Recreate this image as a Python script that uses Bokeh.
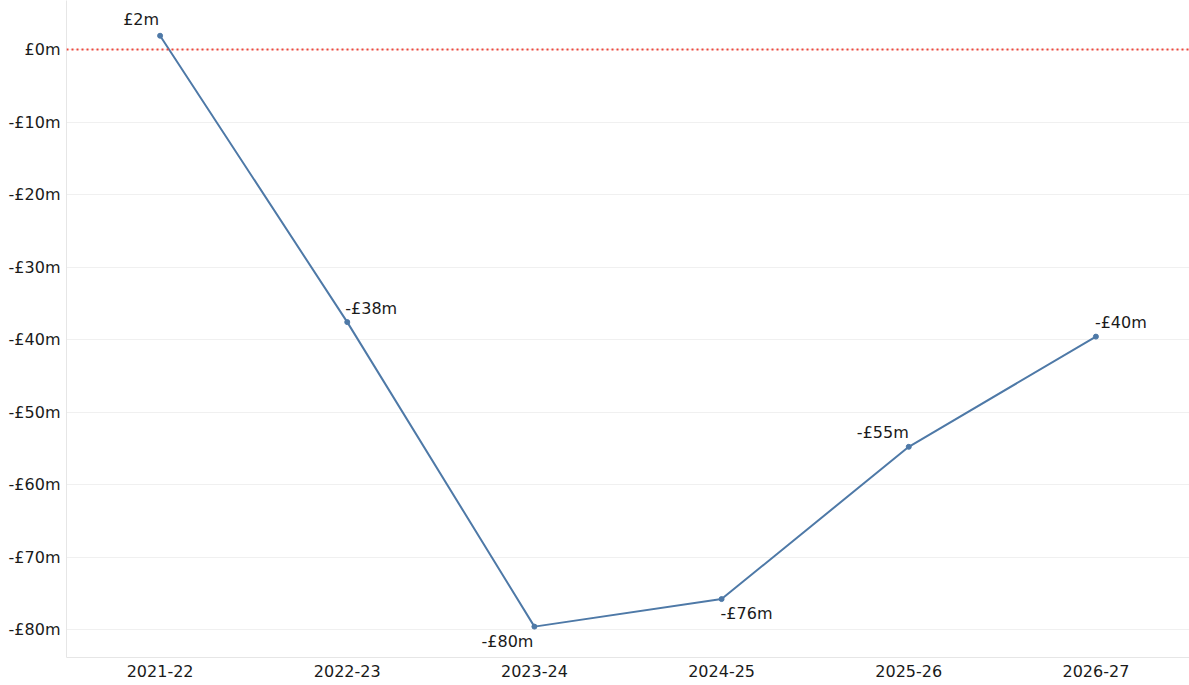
from bokeh.plotting import figure
from bokeh.models import Range1d, ColumnDataSource, Span, FixedTicker, CustomJSTickFormatter
from bokeh.core.properties import value
from bokeh.embed import file_html
from bokeh.resources import INLINE

# ---- data ----
years = ["2021-22", "2022-23", "2023-24", "2024-25", "2025-26", "2026-27"]
values = [1.9, -37.6, -79.6, -75.8, -54.8, -39.6]
labels = ["£2m", "-£38m", "-£80m", "-£76m", "-£55m", "-£40m"]
y_ticks = [0, -10, -20, -30, -40, -50, -60, -70, -80]

# ---- label styling (not data) ----
label_align = ["right", "left", "right", "left", "right", "left"]
label_dx = [-1, -2, -1, -1, 0, -1]
label_dy = [-16, -14, 15, 14, -14, -14]

FONT = "DejaVu Sans"

p = figure(
    x_range=years,
    y_range=Range1d(-83.86, 6.76),
    width=1189,
    height=685,
    output_backend="svg",
    toolbar_location=None,
    min_border_left=66,
    min_border_right=0,
    min_border_top=0,
    min_border_bottom=28,
)
p.outline_line_color = None
p.background_fill_color = "white"
p.border_fill_color = "white"

# axes
p.xaxis.axis_line_color = "#e6e6e6"
p.yaxis.axis_line_color = "#e6e6e6"
p.xaxis.major_tick_line_color = None
p.yaxis.major_tick_line_color = None
p.xaxis.minor_tick_line_color = None
p.yaxis.minor_tick_line_color = None
p.xaxis.major_tick_out = 0
p.yaxis.major_tick_out = 0
p.xaxis.major_label_standoff = 7
p.yaxis.major_label_standoff = 6
p.xaxis.major_label_text_font = FONT
p.yaxis.major_label_text_font = FONT
p.xaxis.major_label_text_font_size = "16px"
p.yaxis.major_label_text_font_size = "16px"
p.xaxis.major_label_text_color = "#1a1a1a"
p.yaxis.major_label_text_color = "#1a1a1a"
p.yaxis.ticker = FixedTicker(ticks=y_ticks)
p.yaxis.formatter = CustomJSTickFormatter(
    code="return (tick < 0 ? '-' : '') + '£' + Math.abs(tick).toFixed(0) + 'm';"
)

p.xgrid.grid_line_color = None
p.ygrid.grid_line_color = "#f0f0f0"
p.ygrid.grid_line_width = 1

# zero reference line
p.add_layout(Span(location=0, dimension="width", line_color="#f0443a",
                  line_width=2, line_dash="2 3"))

src = ColumnDataSource(dict(
    x=years, y=values, label=labels,
    align=label_align, dx=label_dx, dy=label_dy,
))

p.line("x", "y", source=src, line_color="#4e79a7", line_width=2)
p.scatter("x", "y", source=src, size=5, fill_color="#4e79a7", line_color="#4e79a7")

p.text("x", "y", text="label", source=src,
       text_align="align", text_baseline="middle",
       x_offset="dx", y_offset="dy",
       text_font=value(FONT), text_font_size="16px", text_color="#1a1a1a")

open("out.html", "w").write(file_html(p, INLINE))
